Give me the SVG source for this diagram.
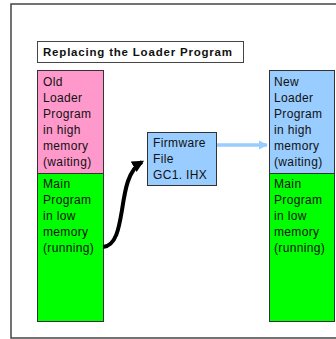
<svg xmlns="http://www.w3.org/2000/svg" width="336" height="339" viewBox="0 0 336 339">
<style>
  .t{font-family:"Liberation Sans",Arial,sans-serif;font-size:12px;fill:#111;letter-spacing:0.35px}
  .b{stroke:#333;stroke-width:1}
</style>
<defs>
  <marker id="ak" viewBox="0 0 10 10" refX="8" refY="5" markerWidth="3" markerHeight="3" orient="auto" markerUnits="strokeWidth">
    <path d="M0,0 L10,5 L0,10 Z" fill="#000"/>
  </marker>
  <marker id="ab" viewBox="0 0 10 10" refX="9" refY="5" markerWidth="2.6" markerHeight="2.6" orient="auto" markerUnits="strokeWidth">
    <path d="M0,0 L10,5 L0,10 Z" fill="#99ccff"/>
  </marker>
</defs>
<rect x="11" y="4" width="330" height="334" fill="#fff" stroke="#444" stroke-width="1.5"/>
<g id="title">
  <rect x="37.5" y="41.5" width="206" height="21" fill="#fff" stroke="#444"/>
  <text x="43" y="56" style="font-family:'Liberation Sans',Arial,sans-serif;font-size:11.5px;font-weight:bold;letter-spacing:0.8px" fill="#111">Replacing the Loader Program</text>
</g>
<g id="old-loader">
  <rect x="37.5" y="70.5" width="66" height="103" fill="#ff99cc" class="b"/>
  <text class="t"><tspan x="43" y="86">Old</tspan><tspan x="43" y="102">Loader</tspan><tspan x="43" y="118">Program</tspan><tspan x="43" y="134">in high</tspan><tspan x="43" y="150">memory</tspan><tspan x="43" y="166">(waiting)</tspan></text>
</g>
<g id="old-main">
  <rect x="37.5" y="173.5" width="66" height="148" fill="#00ff00" class="b"/>
  <text class="t"><tspan x="43" y="188">Main</tspan><tspan x="43" y="204">Program</tspan><tspan x="43" y="220">in low</tspan><tspan x="43" y="236">memory</tspan><tspan x="43" y="252">(running)</tspan></text>
</g>
<g id="firmware">
  <rect x="147.5" y="132.5" width="69" height="53" fill="#99ccff" class="b"/>
  <text class="t"><tspan x="153" y="147">Firmware</tspan><tspan x="153" y="163">File</tspan><tspan x="153" y="179">GC1. IHX</tspan></text>
</g>
<g id="new-loader">
  <rect x="269.5" y="70.5" width="65" height="103" fill="#99ccff" class="b"/>
  <text class="t"><tspan x="274" y="86">New</tspan><tspan x="274" y="102">Loader</tspan><tspan x="274" y="118">Program</tspan><tspan x="274" y="134">in high</tspan><tspan x="274" y="150">memory</tspan><tspan x="274" y="166">(waiting)</tspan></text>
</g>
<g id="new-main">
  <rect x="269.5" y="173.5" width="65" height="148" fill="#00ff00" class="b"/>
  <text class="t"><tspan x="274" y="188">Main</tspan><tspan x="274" y="204">Program</tspan><tspan x="274" y="220">in low</tspan><tspan x="274" y="236">memory</tspan><tspan x="274" y="252">(running)</tspan></text>
</g>
<g id="connectors" fill="none">
  <path d="M103,247 C116,246 119,228 122,210 C125,190 128,170 142,162" stroke="#000" stroke-width="4" marker-end="url(#ak)"/>
  <path d="M217,145 L267,145" stroke="#99ccff" stroke-width="3.5" marker-end="url(#ab)"/>
</g>
</svg>
